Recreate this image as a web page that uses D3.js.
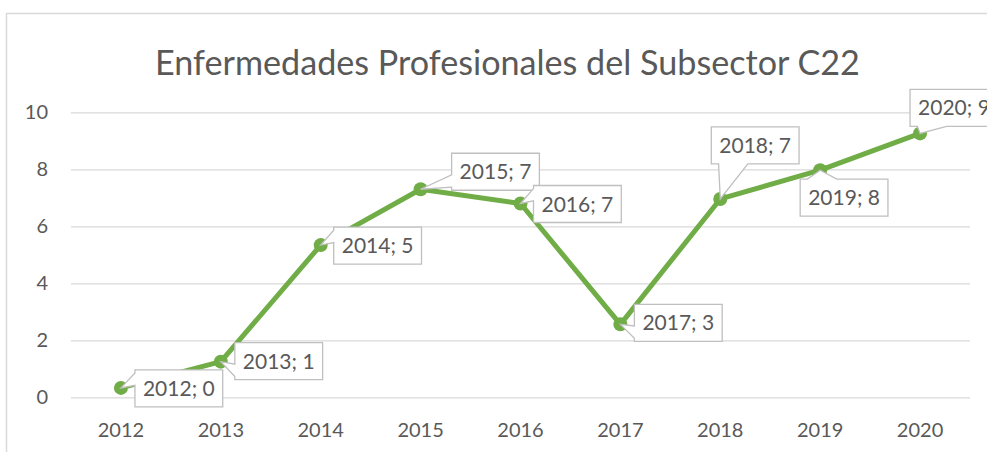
<!DOCTYPE html>
<html>
<head>
<meta charset="utf-8">
<script src="https://cdn.jsdelivr.net/npm/d3@7"></script>
<style>
  body { margin: 0; background: #fff; }
  text { font-family: Lato, "Open Sans", sans-serif; fill: #595959; }
</style>
</head>
<body>
<div id="chart"></div>
<script>
// data
const years = ["2012", "2013", "2014", "2015", "2016", "2017", "2018", "2019", "2020"];
const values = [0.33, 1.25, 5.34, 7.3, 6.8, 2.56, 6.96, 7.97, 9.26];
const yTicks = [0, 2, 4, 6, 8, 10];
const title = "Enfermedades Profesionales del Subsector C22";

// where each data label box sits, relative to its point (box top-left)
const labelOffsets = [
  [14, -18], [14, -19], [13, -18], [31, -36], [13, -18],
  [14, -20], [-9, -72], [-20, 9], [-10, -44]
];

const width = 987,
  height = 452,
  margin = { top: 112.3, bottom: 54.7, left: 71, right: 17 };

const svg = d3.select("#chart")
  .append("svg")
  .attr("width", width)
  .attr("height", height);

// chart area border
svg.append("rect")
  .attr("x", 6.5).attr("y", 13.5)
  .attr("width", 1100).attr("height", 600)
  .attr("fill", "none")
  .attr("stroke", "#d9d9d9")
  .attr("stroke-width", 1.5);

/** SCALES */
const xScale = d3.scaleBand()
  .domain(years)
  .range([margin.left, width - margin.right]);

const yScale = d3.scaleLinear()
  .domain([0, 10])
  .range([height - margin.bottom, margin.top]);

const cx = d => xScale(d) + xScale.bandwidth() / 2;

/** AXES */
const yAxis = d3.axisLeft(yScale)
  .tickValues(yTicks)
  .tickSize(-(width - margin.left - margin.right))
  .tickPadding(23);

svg.append("g")
  .attr("transform", `translate(${margin.left},0)`)
  .call(yAxis)
  .call(g => g.select(".domain").remove())
  .call(g => g.selectAll("line").attr("stroke", "#d9d9d9").attr("stroke-width", 1.3))
  .call(g => g.selectAll("text").attr("font-size", 20).attr("fill", "#595959")
    .style("font-family", "Lato, sans-serif"));

const xAxis = d3.axisBottom(xScale).tickSize(0).tickPadding(25.5);

svg.append("g")
  .attr("transform", `translate(0,${height - margin.bottom})`)
  .call(xAxis)
  .call(g => g.select(".domain").remove())
  .call(g => g.selectAll("text").attr("font-size", 20).attr("fill", "#595959")
    .style("font-family", "Lato, sans-serif"));

/** TITLE */
const t = svg.append("text")
  .attr("x", 507.5)
  .attr("y", 74.5)
  .attr("text-anchor", "middle")
  .attr("font-size", 31)
  .text(title);
// fit to the width of the original title
const tw = t.node().getComputedTextLength();
t.attr("font-size", 31 * 705 / tw);

/** LINE + MARKERS */
const line = d3.line()
  .x((d, i) => cx(years[i]))
  .y(d => yScale(d));

svg.append("path")
  .datum(values)
  .attr("d", line)
  .attr("fill", "none")
  .attr("stroke", "#70ad47")
  .attr("stroke-width", 5)
  .attr("stroke-linejoin", "round")
  .attr("stroke-linecap", "round");

svg.selectAll("circle.marker")
  .data(values)
  .join("circle")
  .attr("class", "marker")
  .attr("cx", (d, i) => cx(years[i]))
  .attr("cy", d => yScale(d))
  .attr("r", 7)
  .attr("fill", "#70ad47");

/** DATA LABELS (wedge callouts) */
const fmt = d3.format(".0f");

function callout(x0, y0, w, h, tx, ty) {
  const x1 = x0 + w, y1 = y0 + h;
  const dx = (tx - (x0 + w / 2)) / w, dy = (ty - (y0 + h / 2)) / h;
  const pts = [];
  if (Math.abs(dx) > Math.abs(dy)) {
    // wedge on left or right side
    const a = dy < 0 ? [1 / 12, 5 / 12] : [7 / 12, 11 / 12];
    if (dx < 0) {
      pts.push([x0, y0], [x1, y0], [x1, y1], [x0, y1],
        [x0, y0 + h * a[1]], [tx, ty], [x0, y0 + h * a[0]]);
    } else {
      pts.push([x0, y0], [x1, y0], [x1, y0 + h * a[0]], [tx, ty],
        [x1, y0 + h * a[1]], [x1, y1], [x0, y1]);
    }
  } else {
    const a = dx < 0 ? [1 / 12, 5 / 12] : [7 / 12, 11 / 12];
    if (dy < 0) {
      pts.push([x0, y0], [x0 + w * a[0], y0], [tx, ty], [x0 + w * a[1], y0],
        [x1, y0], [x1, y1], [x0, y1]);
    } else {
      pts.push([x0, y0], [x1, y0], [x1, y1], [x0 + w * a[1], y1], [tx, ty],
        [x0 + w * a[0], y1], [x0, y1]);
    }
  }
  return "M" + pts.map(p => p.join(",")).join("L") + "Z";
}

const labels = svg.selectAll("g.label")
  .data(values)
  .join("g")
  .attr("class", "label");

labels.each(function (d, i) {
  const g = d3.select(this);
  const px = cx(years[i]), py = yScale(d);
  const bx = px + labelOffsets[i][0], by = py + labelOffsets[i][1];
  const path = g.append("path");
  const txt = g.append("text")
    .attr("font-size", 21)
    .attr("x", bx + 8)
    .attr("y", by + 26)
    .text(`${years[i]}; ${fmt(d)}`);
  const w = txt.node().getComputedTextLength() + 16, h = 37;
  path.attr("d", callout(bx, by, w, h, px, py))
    .attr("fill", "#fff")
    .attr("stroke", "#bfbfbf")
    .attr("stroke-width", 1.3);
});
</script>
</body>
</html>
